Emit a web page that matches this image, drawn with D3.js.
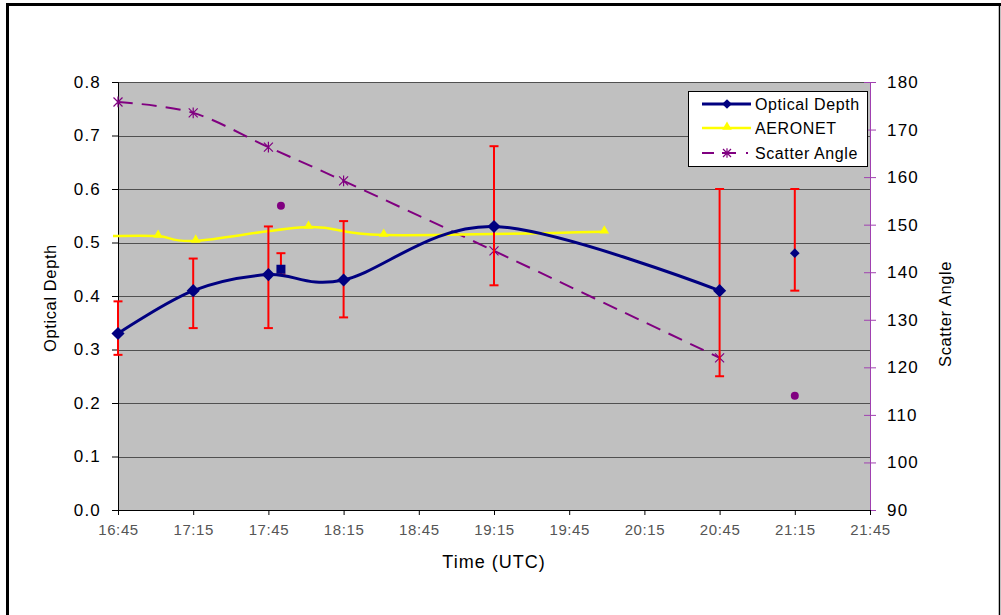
<!DOCTYPE html>
<html lang="en">
<head>
    <meta charset="utf-8">
    <title>Optical Depth and Scatter Angle</title>
    <script type="text/javascript" src="https://cdn.jsdelivr.net/npm/d3@7/dist/d3.min.js"></script>
    <style type="text/css">
        body { margin: 0; overflow: hidden; background: #fff; }
        svg { display: block; }
        text { font-family: "Liberation Sans", Arial, sans-serif; }
    </style>
</head>
<body>
    <script type="text/javascript">
        // Optical depth with error bars
        var odTimes = ["16:45", "17:15", "17:45", "18:15", "19:15", "20:45"];
        var odValues = [0.33, 0.41, 0.44, 0.43, 0.53, 0.41];
        var odLow = [0.29, 0.34, 0.34, 0.36, 0.42, 0.25];
        var odHigh = [0.39, 0.47, 0.53, 0.54, 0.68, 0.60];

        // single optical depth points (not joined)
        var odExtraTimes = ["17:50", "21:15"];
        var odExtraValues = [0.45, 0.48];
        var odExtraLow = [0.44, 0.41];
        var odExtraHigh = [0.48, 0.60];

        // AERONET
        var aeroTimes = ["16:43", "17:01", "17:16", "18:01", "18:31", "19:59"];
        var aeroValues = [0.512, 0.512, 0.503, 0.529, 0.514, 0.520];

        // Scatter angle (right axis)
        var scatTimes = ["16:45", "17:15", "17:45", "18:15", "19:15", "20:45"];
        var scatValues = [175.8, 173.5, 166.3, 159.2, 144.5, 122.0];
        var scatExtraTimes = ["17:50", "21:15"];
        var scatExtraValues = [154, 114];

        var xTickLabels = ["16:45", "17:15", "17:45", "18:15", "18:45", "19:15",
                           "19:45", "20:15", "20:45", "21:15", "21:45"];
        var leftTicks = [0, 0.1, 0.2, 0.3, 0.4, 0.5, 0.6, 0.7, 0.8];
        var rightTicks = [90, 100, 110, 120, 130, 140, 150, 160, 170, 180];

        var navy = "#000080", purple = "#800080", red = "#ff0000", yellow = "#ffff00";

        function mins(t) {
            var p = t.split(":");
            return +p[0] * 60 + +p[1];
        }

        var width = 1001, height = 615;
        var plotL = 118, plotR = 870, plotT = 82, plotB = 510;

        var x = d3.scaleLinear().domain([mins("16:45"), mins("21:45")]).range([plotL, plotR]);
        var yL = d3.scaleLinear().domain([0, 0.8]).range([plotB, plotT]);
        var yR = d3.scaleLinear().domain([90, 180]).range([plotB, plotT]);

        var svg = d3.select("body").append("svg")
            .attr("width", width)
            .attr("height", height);

        // outer frame
        svg.append("line").attr("x1", 6).attr("x2", 1001).attr("y1", 4.5).attr("y2", 4.5)
            .attr("stroke", "#000").attr("stroke-width", 3);
        svg.append("line").attr("x1", 7.5).attr("x2", 7.5).attr("y1", 3).attr("y2", 615)
            .attr("stroke", "#000").attr("stroke-width", 3);
        svg.append("line").attr("x1", 999.5).attr("x2", 999.5).attr("y1", 3).attr("y2", 615)
            .attr("stroke", "#000").attr("stroke-width", 1.5);

        // plot area
        svg.append("rect")
            .attr("x", plotL).attr("y", plotT)
            .attr("width", plotR - plotL).attr("height", plotB - plotT)
            .attr("fill", "#c0c0c0");

        // grid lines
        svg.append("g").selectAll("line")
            .data(leftTicks.filter(function(d) { return d > 0; }))
            .enter().append("line")
            .attr("x1", plotL).attr("x2", plotR)
            .attr("y1", function(d) { return Math.round(yL(d)) + 0.5; })
            .attr("y2", function(d) { return Math.round(yL(d)) + 0.5; })
            .attr("stroke", "#505050").attr("stroke-width", 1.2);

        // left axis
        var gl = svg.append("g").attr("transform", "translate(" + plotL + ",0)")
            .call(d3.axisLeft(yL).tickValues(leftTicks).tickSize(6).tickPadding(11)
                .tickFormat(d3.format(".1f")));
        gl.select(".domain").attr("stroke", "#000");
        gl.selectAll("text").attr("font-size", 17).attr("fill", "#000")
            .attr("letter-spacing", 1.2)
            .attr("font-family", "Liberation Sans, Arial, sans-serif");

        // right axis
        var gr = svg.append("g").attr("transform", "translate(" + plotR + ",0)")
            .call(d3.axisRight(yR).tickValues(rightTicks).tickSize(6).tickPadding(11));
        gr.select(".domain").attr("stroke", "#a040b0");
        gr.selectAll(".tick line").attr("stroke", "#a040b0").attr("x1", -6);
        gr.selectAll("text").attr("font-size", 17).attr("fill", "#000")
            .attr("letter-spacing", 1.2)
            .attr("font-family", "Liberation Sans, Arial, sans-serif");

        // bottom axis
        var gb = svg.append("g").attr("transform", "translate(0," + plotB + ")")
            .call(d3.axisBottom(x).tickValues(xTickLabels.map(mins)).tickSize(5).tickPadding(9)
                .tickFormat(function(d, i) { return xTickLabels[i]; }));
        gb.select(".domain").attr("stroke", "#000");
        gb.selectAll("text").attr("font-size", 15).attr("fill", "#555")
            .attr("letter-spacing", 0.6)
            .attr("font-family", "Liberation Sans, Arial, sans-serif");

        // axis titles
        svg.append("text").attr("transform", "translate(56,298) rotate(-90)")
            .attr("text-anchor", "middle").attr("font-size", 16.5).attr("letter-spacing", 0.6)
            .text("Optical Depth");
        svg.append("text").attr("transform", "translate(951,314) rotate(-90)")
            .attr("text-anchor", "middle").attr("font-size", 16.5).attr("letter-spacing", 0.6)
            .text("Scatter Angle");
        svg.append("text").attr("x", 494).attr("y", 568)
            .attr("text-anchor", "middle").attr("font-size", 18).attr("letter-spacing", 1)
            .text("Time (UTC)");

        var smooth = d3.curveCardinal.tension(0);

        // scatter angle line
        var scatPts = scatTimes.map(function(t, i) { return [x(mins(t)), yR(scatValues[i])]; });
        svg.append("path")
            .attr("d", d3.line().curve(smooth)(scatPts))
            .attr("fill", "none").attr("stroke", purple).attr("stroke-width", 2)
            .attr("stroke-dasharray", "15,9");

        function asterisk(g, cx, cy, s) {
            var p = "M" + (cx - s) + "," + (cy - s) + "L" + (cx + s) + "," + (cy + s) +
                "M" + (cx - s) + "," + (cy + s) + "L" + (cx + s) + "," + (cy - s) +
                "M" + cx + "," + (cy - s * 1.2) + "L" + cx + "," + (cy + s * 1.2);
            g.append("path").attr("d", p).attr("stroke", purple).attr("stroke-width", 1.2)
                .attr("fill", "none");
        }
        scatPts.forEach(function(p) { asterisk(svg, p[0], p[1], 4.5); });

        svg.selectAll(".scatdot")
            .data(scatExtraTimes)
            .enter().append("circle")
            .attr("cx", function(d) { return x(mins(d)); })
            .attr("cy", function(d, i) { return yR(scatExtraValues[i]); })
            .attr("r", 4).attr("fill", purple);

        // AERONET line
        var aeroPts = aeroTimes.map(function(t, i) { return [x(mins(t)), yL(aeroValues[i])]; });
        svg.append("path")
            .attr("d", d3.line().curve(smooth)(aeroPts))
            .attr("fill", "none").attr("stroke", yellow).attr("stroke-width", 2.5);
        var tri = d3.symbol().type(d3.symbolTriangle).size(40);
        svg.selectAll(".aero")
            .data(aeroPts.slice(1))
            .enter().append("path")
            .attr("transform", function(d) { return "translate(" + d[0] + "," + (d[1] - 1) + ")"; })
            .attr("d", tri).attr("fill", yellow);

        // error bars
        function errBar(t, lo, hi, cap) {
            var cx = x(mins(t));
            var g = svg.append("g").attr("stroke", red).attr("stroke-width", 2);
            g.append("line").attr("x1", cx).attr("x2", cx).attr("y1", yL(lo)).attr("y2", yL(hi));
            g.append("line").attr("x1", cx - cap).attr("x2", cx + cap).attr("y1", yL(lo)).attr("y2", yL(lo));
            g.append("line").attr("x1", cx - cap).attr("x2", cx + cap).attr("y1", yL(hi)).attr("y2", yL(hi));
        }
        odTimes.forEach(function(t, i) { errBar(t, odLow[i], odHigh[i], 4.5); });
        odExtraTimes.forEach(function(t, i) { errBar(t, odExtraLow[i], odExtraHigh[i], 4.5); });

        // optical depth line
        var odPts = odTimes.map(function(t, i) { return [x(mins(t)), yL(odValues[i])]; });
        svg.append("path")
            .attr("d", d3.line().curve(smooth)(odPts))
            .attr("fill", "none").attr("stroke", navy).attr("stroke-width", 3);
        var diamond = d3.symbol().type(d3.symbolDiamond2).size(110);
        svg.selectAll(".od")
            .data(odPts)
            .enter().append("path")
            .attr("transform", function(d) { return "translate(" + d[0] + "," + d[1] + ")"; })
            .attr("d", diamond).attr("fill", navy);

        // extra optical depth points: square and small diamond
        var ex0 = x(mins(odExtraTimes[0])), ey0 = yL(odExtraValues[0]);
        svg.append("rect").attr("x", ex0 - 4.5).attr("y", ey0 - 4.5)
            .attr("width", 9).attr("height", 9).attr("fill", navy);
        svg.append("path")
            .attr("transform", "translate(" + x(mins(odExtraTimes[1])) + "," + yL(odExtraValues[1]) + ")")
            .attr("d", d3.symbol().type(d3.symbolDiamond2).size(60)).attr("fill", navy);

        // legend
        var lg = svg.append("g");
        lg.append("rect").attr("x", 688.5).attr("y", 91.5).attr("width", 179).attr("height", 75)
            .attr("fill", "#fff").attr("stroke", "#000").attr("stroke-width", 1);
        var rows = [
            { name: "Optical Depth", y: 104 },
            { name: "AERONET", y: 128 },
            { name: "Scatter Angle", y: 153 }
        ];
        // optical depth sample
        lg.append("line").attr("x1", 702).attr("x2", 751).attr("y1", rows[0].y).attr("y2", rows[0].y)
            .attr("stroke", navy).attr("stroke-width", 3);
        lg.append("path").attr("transform", "translate(727," + rows[0].y + ")")
            .attr("d", d3.symbol().type(d3.symbolDiamond2).size(60)).attr("fill", navy);
        // aeronet sample
        lg.append("line").attr("x1", 702).attr("x2", 751).attr("y1", rows[1].y).attr("y2", rows[1].y)
            .attr("stroke", yellow).attr("stroke-width", 2.5);
        lg.append("path").attr("transform", "translate(727," + (rows[1].y - 1) + ")")
            .attr("d", tri).attr("fill", yellow);
        // scatter sample
        lg.append("line").attr("x1", 702).attr("x2", 752).attr("y1", rows[2].y).attr("y2", rows[2].y)
            .attr("stroke", purple).attr("stroke-width", 2).attr("stroke-dasharray", "12,8,14,10,2,8");
        asterisk(lg, 727, rows[2].y, 4);
        lg.selectAll("text")
            .data(rows)
            .enter().append("text")
            .attr("x", 755).attr("y", function(d) { return d.y + 6; })
            .attr("font-size", 16).attr("letter-spacing", 0.6).attr("fill", "#000")
            .text(function(d) { return d.name; });
    </script>
</body>
</html>
